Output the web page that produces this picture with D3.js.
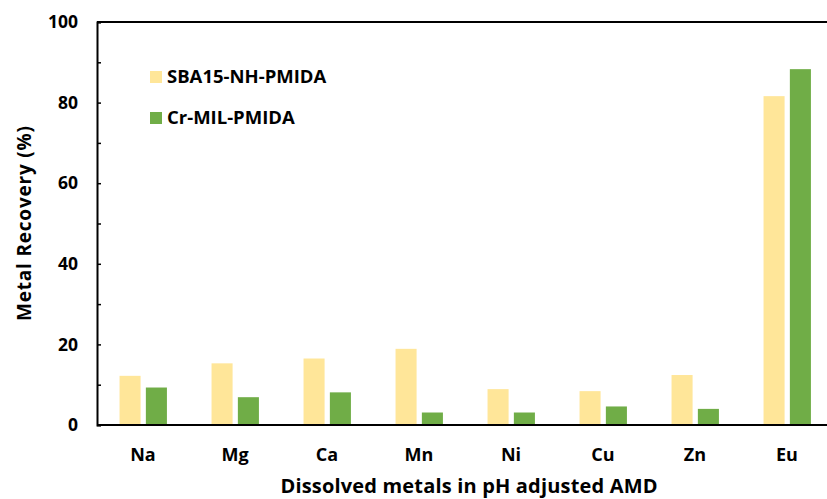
<!DOCTYPE html>
<html>
<head>
<meta charset="utf-8">
<script src="https://cdn.jsdelivr.net/npm/d3@7"></script>
<style>
  body { margin: 0; background: #fff; }
  svg { display: block; font-family: "Open Sans", "Noto Sans", sans-serif; font-weight: bold; }
</style>
</head>
<body>
<div id="chart"></div>
<script>
// data
const metals = ["Na", "Mg", "Ca", "Mn", "Ni", "Cu", "Zn", "Eu"]
const sba15 = [12.2, 15.3, 16.5, 18.9, 8.9, 8.4, 12.4, 81.6]
const crMil = [9.3, 6.9, 8.1, 3.1, 3.1, 4.6, 4.0, 88.3]
const seriesNames = ["SBA15-NH-PMIDA", "Cr-MIL-PMIDA"]
const yTicks = [0, 20, 40, 60, 80, 100]

const W = 827, H = 499
const m = { left: 97, top: 22, bottom: 74 }
const plotRight = 833   // last band runs past the crop

const rows = metals.map((d, i) => ({ metal: d, values: [sba15[i], crMil[i]] }))

const color = d3.scaleOrdinal().domain(seriesNames).range(["#FFE699", "#70AD47"])

const svg = d3.select("#chart").append("svg")
  .attr("width", W)
  .attr("height", H)

const x = d3.scaleBand()
  .domain(metals)
  .range([m.left, plotRight])

const x1 = d3.scaleBand()
  .domain(seriesNames)
  .range([x.bandwidth() * 0.245, x.bandwidth() * 0.76])
  .paddingInner(0.2)

const y = d3.scaleLinear()
  .domain([0, 100])
  .range([H - m.bottom, m.top])

// bars
svg.append("g")
  .selectAll("g")
  .data(rows)
  .join("g")
  .attr("transform", d => `translate(${x(d.metal)},0)`)
  .selectAll("rect")
  .data(d => d.values.map((v, i) => ({ key: seriesNames[i], v })))
  .join("rect")
  .attr("x", d => x1(d.key))
  .attr("width", x1.bandwidth())
  .attr("y", d => y(d.v))
  .attr("height", d => y(0) - y(d.v))
  .attr("fill", d => color(d.key))

// top frame line
svg.append("line")
  .attr("x1", m.left).attr("x2", W)
  .attr("y1", y(100)).attr("y2", y(100))
  .attr("stroke", "#000").attr("stroke-width", 2)

// y axis, ticks every 10 pointing inward
const yAxis = svg.append("g")
  .attr("transform", `translate(${m.left},0)`)
  .call(d3.axisRight(y).tickValues(d3.range(0, 101, 10)).tickSize(4).tickFormat(""))
yAxis.select(".domain").attr("stroke-width", 2)
yAxis.selectAll(".tick line").attr("stroke-width", 1.5)

svg.append("g")
  .selectAll("text")
  .data(yTicks)
  .join("text")
  .attr("x", m.left - 19)
  .attr("y", d => y(d))
  .attr("dy", "0.35em")
  .attr("text-anchor", "end")
  .attr("font-size", 17.5)
  .text(d => d)

// x axis line
svg.append("line")
  .attr("x1", m.left).attr("x2", W)
  .attr("y1", y(0)).attr("y2", y(0))
  .attr("stroke", "#000").attr("stroke-width", 2)

svg.append("g")
  .selectAll("text")
  .data(metals)
  .join("text")
  .attr("x", d => x(d) + x.bandwidth() / 2)
  .attr("y", 461)
  .attr("text-anchor", "middle")
  .attr("font-size", 18)
  .text(d => d)

// axis titles
svg.append("text")
  .attr("transform", `translate(31,${(y(0) + y(100)) / 2}) rotate(-90)`)
  .attr("text-anchor", "middle")
  .attr("font-size", 19)
  .attr("textLength", 195)
  .text("Metal Recovery (%)")

svg.append("text")
  .attr("x", 469)
  .attr("y", 493)
  .attr("text-anchor", "middle")
  .attr("font-size", 20)
  .attr("textLength", 377)
  .text("Dissolved metals in pH adjusted AMD")

// legend
const legend = svg.append("g")
  .selectAll("g")
  .data(seriesNames)
  .join("g")
  .attr("transform", (d, i) => `translate(150,${71 + i * 41})`)
legend.append("rect")
  .attr("width", 12)
  .attr("height", 12)
  .attr("fill", color)
legend.append("text")
  .attr("x", 17)
  .attr("y", 12)
  .attr("font-size", 18.5)
  .text(d => d)
</script>
</body>
</html>
